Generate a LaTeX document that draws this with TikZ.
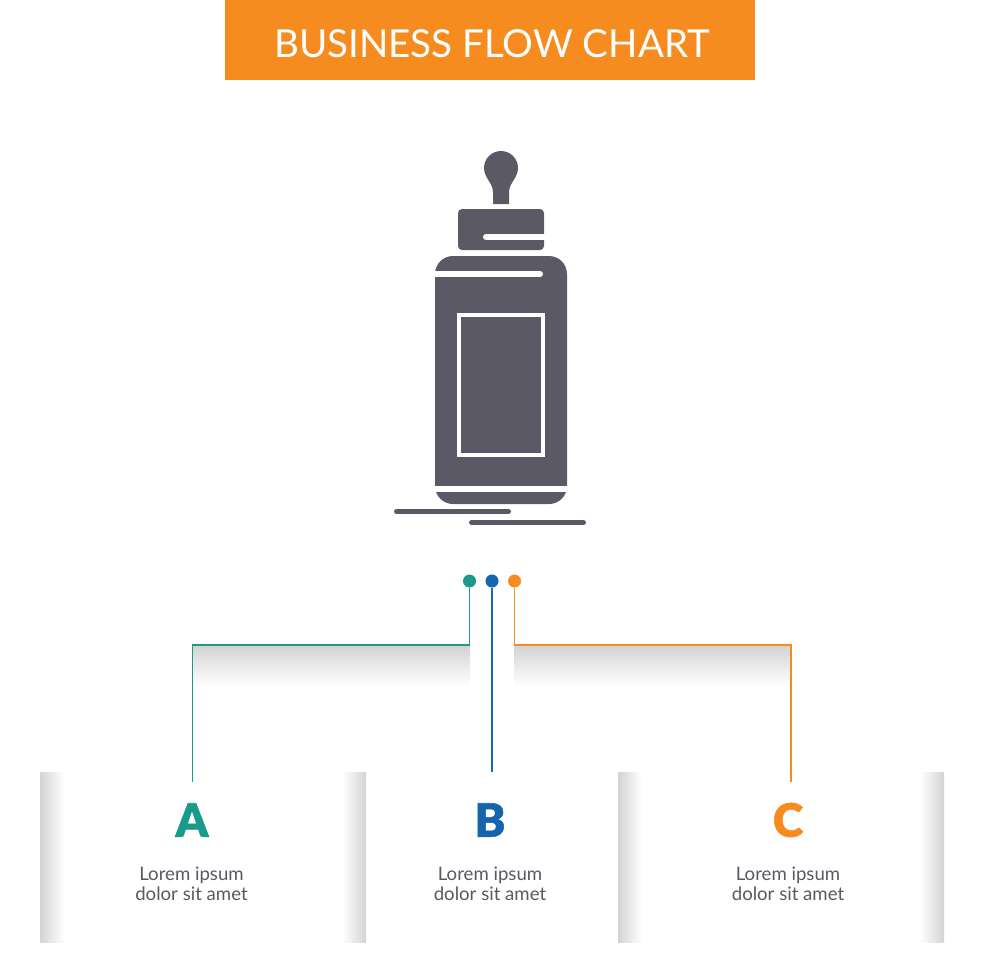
\documentclass[tikz,border=0pt]{standalone}
\usepackage{fontspec}
\setmainfont{Lato}
\newfontfamily\letterfont[FakeBold=1.2]{Lato Black}
\definecolor{bannerorange}{HTML}{F68B1F}
\definecolor{flowteal}{HTML}{1B9A8B}
\definecolor{flowblue}{HTML}{1565AE}
\definecolor{bottlegray}{HTML}{5B5965}
\definecolor{textgray}{HTML}{5A5862}
\tikzset{
    flowdot/.style={circle, fill=#1, inner sep=0pt, minimum size=13pt},
    flowline/.style={line width=1.6pt, #1},
    letter/.style={font=\letterfont\fontsize{46}{46}\selectfont, text=#1},
    lorem/.style={font=\fontsize{18.6}{20}\selectfont, text=textgray, align=center},
}
\begin{document}
\begin{tikzpicture}[x=1pt, y=-1pt]
    \useasboundingbox (0,0) rectangle (980,980);
    \fill[white] (0,0) rectangle (980,980);

    % Banner
    \fill[bannerorange] (225,0) rectangle (755,80);
    \node[text=white, font=\fontsize{38.5}{38.5}\selectfont] (title) at (492,44) {BUSINESS FLOW CHART};

    % Bottle
    \fill[bottlegray] (493,204) -- (493,192) .. controls (493,183) and (484,178) .. (484,168)
        .. controls (484,158.6) and (491.6,151) .. (501,151)
        .. controls (510.4,151) and (518,158.6) .. (518,168)
        .. controls (518,178) and (509,183) .. (509,192) -- (509,204) -- cycle;
    \fill[bottlegray, rounded corners=4pt] (458,209) rectangle (544,250);
    \draw[white, line width=6pt, line cap=round] (486,237) -- (552,237);
    \fill[bottlegray, rounded corners=18pt] (435,256) rectangle (567,504);
    \draw[white, line width=6pt, line cap=round] (428,274) -- (540,274);
    \fill[white] (430,486) rectangle (572,492);
    \draw[white, line width=4.5pt] (459,315) rectangle (543,455);

    % Ground lines
    \draw[bottlegray, line width=5pt, line cap=round] (396.5,511.5) -- (508.5,511.5);
    \draw[bottlegray, line width=5pt, line cap=round] (471.5,522.5) -- (583.5,522.5);

    % Shadows under the lines
    \shade[top color=black!17, middle color=black!5, bottom color=white] (193,646) rectangle (470,686);
    \shade[top color=black!17, middle color=black!5, bottom color=white] (514,646) rectangle (791,686);

    % Panels
    \foreach \x in {40,618} {
        \shade[left color=black!17, middle color=black!4, right color=white] (\x,772) rectangle (\x+24,942);
        \shade[left color=white, middle color=black!4, right color=black!17] (\x+302,772) rectangle (\x+326,942);
    }

    % Dots
    \node[flowdot=flowteal] (dota) at (469.5,581) {};
    \node[flowdot=flowblue] (dotb) at (492,581) {};
    \node[flowdot=bannerorange] (dotc) at (514.5,581) {};

    % Connectors
    \coordinate (corna) at (192.5,645);
    \coordinate (enda) at (192.5,782);
    \coordinate (endb) at (492,772);
    \coordinate (cornc) at (791,645);
    \coordinate (endc) at (791,782);
    \draw[flowline=flowteal] (dota) |- (corna) -- (enda);
    \draw[flowline=flowblue!85!flowteal] (dotb) -- (endb);
    \draw[flowline=bannerorange] (dotc) |- (cornc) -- (endc);

    % Letters
    \node[letter=flowteal] (leta) at (192,820) {A};
    \node[letter=flowblue] (letb) at (490,820) {B};
    \node[letter=bannerorange] (letc) at (788,820) {C};

    % Texts
    \node[lorem] (texta) at (191.5,884) {Lorem ipsum\\dolor sit amet};
    \node[lorem] (textb) at (490,884) {Lorem ipsum\\dolor sit amet};
    \node[lorem] (textc) at (788,884) {Lorem ipsum\\dolor sit amet};
\end{tikzpicture}
\end{document}
